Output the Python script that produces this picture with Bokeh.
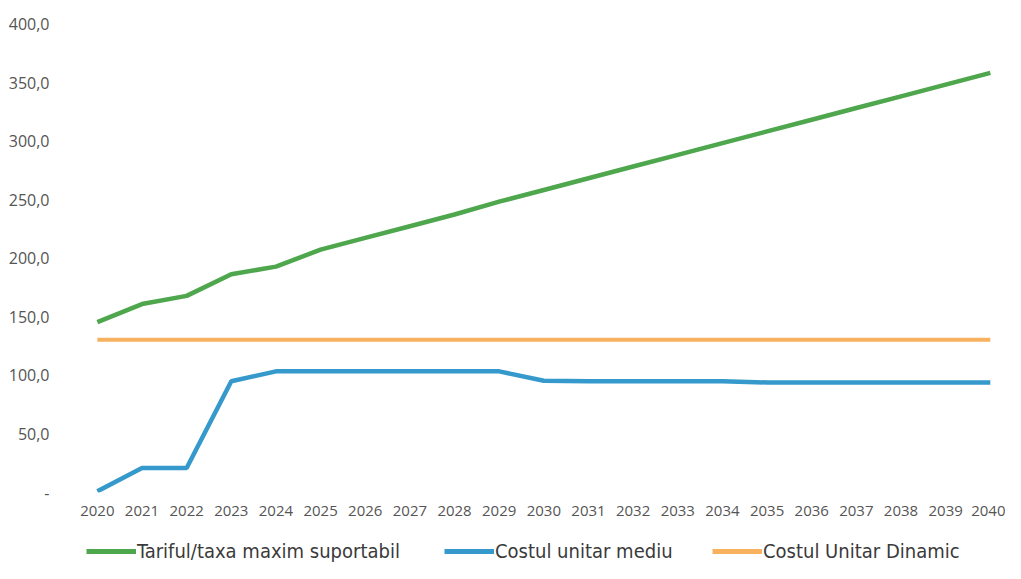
from bokeh.plotting import figure
from bokeh.models import FixedTicker, Legend, LegendItem, Range1d
from bokeh.layouts import column
from bokeh.embed import file_html
from bokeh.resources import INLINE

years = list(range(2020, 2041))
tarif_maxim = [145.5, 161.0, 168.0, 186.5, 193.0, 207.5, 217.5, 227.5, 237.5, 248.5, 258.5,
               268.5, 278.5, 288.5, 298.5, 308.5, 318.5, 328.5, 338.5, 348.5, 358.5]
cost_mediu = [1.0, 21.0, 21.0, 95.0, 103.5, 103.5, 103.5, 103.5, 103.5, 103.5, 95.5,
              95.0, 95.0, 95.0, 95.0, 94.0, 94.0, 94.0, 94.0, 94.0, 94.0]
cost_dinamic = [130.5] * 21
series_names = ["Tariful/taxa maxim suportabil", "Costul unitar mediu", "Costul Unitar Dinamic"]
y_ticks = [0, 50, 100, 150, 200, 250, 300, 350, 400]
y_tick_labels = ["-", "50,0", "100,0", "150,0", "200,0", "250,0", "300,0", "350,0", "400,0"]

GREEN = "#4ea64d"
BLUE = "#3599cb"
ORANGE = "#f8b25f"
colors = [GREEN, BLUE, ORANGE]

p = figure(width=1005, height=527, output_backend="svg", toolbar_location=None, title=None,
           x_range=Range1d(2019.04, 2040.34), y_range=Range1d(0, 406.7),
           min_border_left=54, min_border_right=0, min_border_top=16, min_border_bottom=35)
p.outline_line_color = None
p.xgrid.visible = False
p.ygrid.visible = False

p.line(years, tarif_maxim, line_color=GREEN, line_width=4.5)
p.line(years, cost_mediu, line_color=BLUE, line_width=4.5)
p.line(years, cost_dinamic, line_color=ORANGE, line_width=4)

p.xaxis.ticker = FixedTicker(ticks=years)
p.xaxis.major_label_overrides = {y: str(y) for y in years}
p.yaxis.ticker = FixedTicker(ticks=y_ticks)
p.yaxis.major_label_overrides = {t: l for t, l in zip(y_ticks, y_tick_labels)}
for ax in (p.xaxis[0], p.yaxis[0]):
    ax.axis_line_color = None
    ax.major_tick_line_color = None
    ax.minor_tick_line_color = None
    ax.major_tick_out = 0
    ax.major_tick_in = 0
    ax.major_label_text_font = "Open Sans"
    ax.major_label_text_color = "#555555"
p.xaxis.major_label_text_font_size = "15px"
p.yaxis.major_label_text_font_size = "16px"
p.xaxis.major_label_standoff = 13
p.yaxis.major_label_standoff = 5

# legend strip below the chart (its renderers sit outside the visible range)
lp = figure(width=1005, height=36, output_backend="svg", toolbar_location=None, title=None,
            x_range=Range1d(0, 1), y_range=Range1d(0, 1),
            x_axis_type=None, y_axis_type=None,
            min_border_left=54, min_border_right=0, min_border_top=0, min_border_bottom=0)
lp.outline_line_color = None
lp.xgrid.visible = False
lp.ygrid.visible = False

legend_x = [32, 390, 658]
for name, col, lx in zip(series_names, colors, legend_x):
    r = lp.line([-5, -4], [-5, -5], line_color=col, line_width=5)
    lg = Legend(items=[LegendItem(label=name, renderers=[r])],
                location=(lx, 0), orientation="horizontal",
                glyph_width=50, glyph_height=20, label_standoff=1,
                padding=0, margin=0, spacing=0,
                border_line_color=None, background_fill_alpha=0,
                label_text_font="DejaVu Sans Condensed", label_text_font_size="20px",
                label_text_color="#3a3a3a", label_height=20)
    lp.add_layout(lg, "center")

layout = column(p, lp, spacing=0)
open("out.html", "w").write(file_html(layout, INLINE))
